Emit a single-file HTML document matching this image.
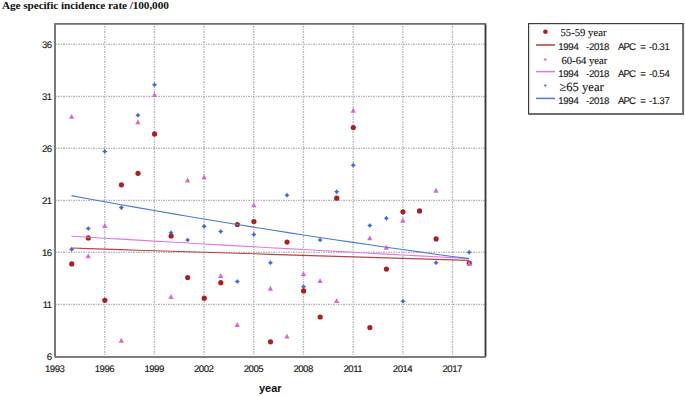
<!DOCTYPE html>
<html><head><meta charset="utf-8"><style>
html,body{margin:0;padding:0;background:#fff;}
body{width:685px;height:396px;overflow:hidden;}
svg{display:block;}
.sans{font-family:"Liberation Sans",sans-serif;}
.serif{font-family:"Liberation Serif",serif;}
</style></head><body>
<svg width="685" height="396" viewBox="0 0 685 396">
<rect width="685" height="396" fill="#fff"/>
<text class="serif" x="2" y="9.3" font-size="11.3" letter-spacing="-0.1" font-weight="bold" fill="#111">Age specific incidence rate /100,000</text>
<g stroke="#b8b8b8" stroke-width="1.3" stroke-dasharray="1,1,2,1">
<line x1="56" y1="44.45" x2="485" y2="44.45"/>
<line x1="56" y1="96.45" x2="485" y2="96.45"/>
<line x1="56" y1="148.45" x2="485" y2="148.45"/>
<line x1="56" y1="200.45" x2="485" y2="200.45"/>
<line x1="56" y1="252.45" x2="485" y2="252.45"/>
<line x1="56" y1="304.45" x2="485" y2="304.45"/>
<line x1="104.72" y1="24" x2="104.72" y2="356"/>
<line x1="154.40" y1="24" x2="154.40" y2="356"/>
<line x1="204.09" y1="24" x2="204.09" y2="356"/>
<line x1="253.77" y1="24" x2="253.77" y2="356"/>
<line x1="303.46" y1="24" x2="303.46" y2="356"/>
<line x1="353.15" y1="24" x2="353.15" y2="356"/>
<line x1="402.83" y1="24" x2="402.83" y2="356"/>
<line x1="452.52" y1="24" x2="452.52" y2="356"/>
</g>
<path d="M71.69,246.80 L72.74,248.35 L74.29,249.40 L72.74,250.45 L71.69,252.00 L70.64,250.45 L69.09,249.40 L70.64,248.35Z" fill="#3e66e0"/>
<path d="M88.25,225.90 L89.30,227.45 L90.85,228.50 L89.30,229.55 L88.25,231.10 L87.20,229.55 L85.65,228.50 L87.20,227.45Z" fill="#3e66e0"/>
<path d="M104.82,148.90 L105.87,150.45 L107.42,151.50 L105.87,152.55 L104.82,154.10 L103.77,152.55 L102.22,151.50 L103.77,150.45Z" fill="#3e66e0"/>
<path d="M121.38,205.00 L122.43,206.55 L123.98,207.60 L122.43,208.65 L121.38,210.20 L120.33,208.65 L118.78,207.60 L120.33,206.55Z" fill="#3e66e0"/>
<path d="M137.94,112.60 L138.99,114.15 L140.54,115.20 L138.99,116.25 L137.94,117.80 L136.89,116.25 L135.34,115.20 L136.89,114.15Z" fill="#3e66e0"/>
<path d="M154.50,82.20 L155.55,83.75 L157.10,84.80 L155.55,85.85 L154.50,87.40 L153.45,85.85 L151.90,84.80 L153.45,83.75Z" fill="#3e66e0"/>
<path d="M171.06,230.10 L172.11,231.65 L173.66,232.70 L172.11,233.75 L171.06,235.30 L170.01,233.75 L168.46,232.70 L170.01,231.65Z" fill="#3e66e0"/>
<path d="M187.63,237.40 L188.68,238.95 L190.23,240.00 L188.68,241.05 L187.63,242.60 L186.58,241.05 L185.03,240.00 L186.58,238.95Z" fill="#3e66e0"/>
<path d="M204.19,223.80 L205.24,225.35 L206.79,226.40 L205.24,227.45 L204.19,229.00 L203.14,227.45 L201.59,226.40 L203.14,225.35Z" fill="#3e66e0"/>
<path d="M220.75,228.90 L221.80,230.45 L223.35,231.50 L221.80,232.55 L220.75,234.10 L219.70,232.55 L218.15,231.50 L219.70,230.45Z" fill="#3e66e0"/>
<path d="M237.31,278.90 L238.36,280.45 L239.91,281.50 L238.36,282.55 L237.31,284.10 L236.26,282.55 L234.71,281.50 L236.26,280.45Z" fill="#3e66e0"/>
<path d="M253.87,231.90 L254.92,233.45 L256.47,234.50 L254.92,235.55 L253.87,237.10 L252.82,235.55 L251.27,234.50 L252.82,233.45Z" fill="#3e66e0"/>
<path d="M270.44,260.10 L271.49,261.65 L273.04,262.70 L271.49,263.75 L270.44,265.30 L269.39,263.75 L267.84,262.70 L269.39,261.65Z" fill="#3e66e0"/>
<path d="M287.00,192.60 L288.05,194.15 L289.60,195.20 L288.05,196.25 L287.00,197.80 L285.95,196.25 L284.40,195.20 L285.95,194.15Z" fill="#3e66e0"/>
<path d="M303.56,284.10 L304.61,285.65 L306.16,286.70 L304.61,287.75 L303.56,289.30 L302.51,287.75 L300.96,286.70 L302.51,285.65Z" fill="#3e66e0"/>
<path d="M320.12,237.40 L321.17,238.95 L322.72,240.00 L321.17,241.05 L320.12,242.60 L319.07,241.05 L317.52,240.00 L319.07,238.95Z" fill="#3e66e0"/>
<path d="M336.68,189.20 L337.73,190.75 L339.28,191.80 L337.73,192.85 L336.68,194.40 L335.63,192.85 L334.08,191.80 L335.63,190.75Z" fill="#3e66e0"/>
<path d="M353.25,162.60 L354.30,164.15 L355.85,165.20 L354.30,166.25 L353.25,167.80 L352.20,166.25 L350.65,165.20 L352.20,164.15Z" fill="#3e66e0"/>
<path d="M369.81,222.90 L370.86,224.45 L372.41,225.50 L370.86,226.55 L369.81,228.10 L368.76,226.55 L367.21,225.50 L368.76,224.45Z" fill="#3e66e0"/>
<path d="M386.37,215.60 L387.42,217.15 L388.97,218.20 L387.42,219.25 L386.37,220.80 L385.32,219.25 L383.77,218.20 L385.32,217.15Z" fill="#3e66e0"/>
<path d="M402.93,298.60 L403.98,300.15 L405.53,301.20 L403.98,302.25 L402.93,303.80 L401.88,302.25 L400.33,301.20 L401.88,300.15Z" fill="#3e66e0"/>
<path d="M436.06,260.10 L437.11,261.65 L438.66,262.70 L437.11,263.75 L436.06,265.30 L435.01,263.75 L433.46,262.70 L435.01,261.65Z" fill="#3e66e0"/>
<path d="M469.18,249.70 L470.23,251.25 L471.78,252.30 L470.23,253.35 L469.18,254.90 L468.13,253.35 L466.58,252.30 L468.13,251.25Z" fill="#3e66e0"/>
<circle cx="71.74" cy="263.90" r="2.6" fill="#aa2020"/>
<circle cx="88.30" cy="237.90" r="2.6" fill="#aa2020"/>
<circle cx="104.87" cy="300.30" r="2.6" fill="#aa2020"/>
<circle cx="121.43" cy="184.80" r="2.6" fill="#aa2020"/>
<circle cx="137.99" cy="173.30" r="2.6" fill="#aa2020"/>
<circle cx="154.55" cy="133.90" r="2.6" fill="#aa2020"/>
<circle cx="171.11" cy="236.00" r="2.6" fill="#aa2020"/>
<circle cx="187.68" cy="277.60" r="2.6" fill="#aa2020"/>
<circle cx="204.24" cy="298.20" r="2.6" fill="#aa2020"/>
<circle cx="220.80" cy="282.70" r="2.6" fill="#aa2020"/>
<circle cx="237.36" cy="224.50" r="2.6" fill="#aa2020"/>
<circle cx="253.92" cy="221.50" r="2.6" fill="#aa2020"/>
<circle cx="270.49" cy="341.80" r="2.6" fill="#aa2020"/>
<circle cx="287.05" cy="242.10" r="2.6" fill="#aa2020"/>
<circle cx="303.61" cy="290.90" r="2.6" fill="#aa2020"/>
<circle cx="320.17" cy="317.00" r="2.6" fill="#aa2020"/>
<circle cx="336.73" cy="198.20" r="2.6" fill="#aa2020"/>
<circle cx="353.30" cy="127.60" r="2.6" fill="#aa2020"/>
<circle cx="369.86" cy="327.60" r="2.6" fill="#aa2020"/>
<circle cx="386.42" cy="269.10" r="2.6" fill="#aa2020"/>
<circle cx="402.98" cy="211.80" r="2.6" fill="#aa2020"/>
<circle cx="419.54" cy="210.90" r="2.6" fill="#aa2020"/>
<circle cx="436.11" cy="238.90" r="2.6" fill="#aa2020"/>
<circle cx="469.23" cy="263.20" r="2.6" fill="#aa2020"/>
<path d="M71.64,113.95 L74.29,118.85 L68.99,118.85Z" fill="#d866d8"/>
<path d="M88.20,253.35 L90.85,258.25 L85.55,258.25Z" fill="#d866d8"/>
<path d="M104.77,223.05 L107.42,227.95 L102.12,227.95Z" fill="#d866d8"/>
<path d="M121.33,337.85 L123.98,342.75 L118.68,342.75Z" fill="#d866d8"/>
<path d="M137.89,119.35 L140.54,124.25 L135.24,124.25Z" fill="#d866d8"/>
<path d="M154.45,92.15 L157.10,97.05 L151.80,97.05Z" fill="#d866d8"/>
<path d="M171.01,294.05 L173.66,298.95 L168.36,298.95Z" fill="#d866d8"/>
<path d="M187.58,177.55 L190.23,182.45 L184.93,182.45Z" fill="#d866d8"/>
<path d="M204.14,174.25 L206.79,179.15 L201.49,179.15Z" fill="#d866d8"/>
<path d="M220.70,273.05 L223.35,277.95 L218.05,277.95Z" fill="#d866d8"/>
<path d="M237.26,322.05 L239.91,326.95 L234.61,326.95Z" fill="#d866d8"/>
<path d="M253.82,202.35 L256.47,207.25 L251.17,207.25Z" fill="#d866d8"/>
<path d="M270.39,285.75 L273.04,290.65 L267.74,290.65Z" fill="#d866d8"/>
<path d="M286.95,333.65 L289.60,338.55 L284.30,338.55Z" fill="#d866d8"/>
<path d="M303.51,271.15 L306.16,276.05 L300.86,276.05Z" fill="#d866d8"/>
<path d="M320.07,278.15 L322.72,283.05 L317.42,283.05Z" fill="#d866d8"/>
<path d="M336.63,298.15 L339.28,303.05 L333.98,303.05Z" fill="#d866d8"/>
<path d="M353.20,107.85 L355.85,112.75 L350.55,112.75Z" fill="#d866d8"/>
<path d="M369.76,235.45 L372.41,240.35 L367.11,240.35Z" fill="#d866d8"/>
<path d="M386.32,244.85 L388.97,249.75 L383.67,249.75Z" fill="#d866d8"/>
<path d="M402.88,217.85 L405.53,222.75 L400.23,222.75Z" fill="#d866d8"/>
<path d="M436.01,187.85 L438.66,192.75 L433.36,192.75Z" fill="#d866d8"/>
<path d="M469.13,260.75 L471.78,265.65 L466.48,265.65Z" fill="#d866d8"/>
<polyline points="71.44,248.07 88.00,248.60 104.57,249.13 121.13,249.65 137.69,250.18 154.25,250.70 170.81,251.23 187.38,251.75 203.94,252.27 220.50,252.78 237.06,253.30 253.62,253.81 270.19,254.33 286.75,254.84 303.31,255.35 319.87,255.86 336.43,256.36 353.00,256.87 369.56,257.37 386.12,257.87 402.68,258.37 419.24,258.87 435.81,259.37 452.37,259.86 468.93,260.36" fill="none" stroke="#b84444" stroke-width="1.1"/>
<polyline points="71.44,236.21 88.00,237.20 104.57,238.18 121.13,239.16 137.69,240.13 154.25,241.10 170.81,242.06 187.38,243.02 203.94,243.97 220.50,244.92 237.06,245.86 253.62,246.79 270.19,247.72 286.75,248.65 303.31,249.57 319.87,250.49 336.43,251.40 353.00,252.31 369.56,253.21 386.12,254.10 402.68,255.00 419.24,255.88 435.81,256.77 452.37,257.64 468.93,258.52" fill="none" stroke="#e07ae0" stroke-width="1.1"/>
<polyline points="71.44,195.65 88.00,198.71 104.57,201.73 121.13,204.71 137.69,207.65 154.25,210.55 170.81,213.41 187.38,216.23 203.94,219.01 220.50,221.76 237.06,224.46 253.62,227.13 270.19,229.76 286.75,232.36 303.31,234.92 319.87,237.44 336.43,239.94 353.00,242.39 369.56,244.81 386.12,247.20 402.68,249.56 419.24,251.89 435.81,254.18 452.37,256.44 468.93,258.67" fill="none" stroke="#4a78dc" stroke-width="1.1"/>
<path d="M55,23.8 L485.5,23.8 L485.5,356.8 L55,356.8 Z" fill="none" stroke="#6c6c6c" stroke-width="1.8" stroke-linejoin="round"/>
<line x1="55.8" y1="356.8" x2="484.7" y2="356.8" stroke="#7a7a7a" stroke-width="1.8"/>
<line x1="485.5" y1="24.5" x2="485.5" y2="356" stroke="#3a3a3a" stroke-width="1.4"/>
<g class="sans" font-size="9.6" letter-spacing="-0.5" fill="#1a1a1a" stroke="#1a1a1a" stroke-width="0.15" style="text-rendering:geometricPrecision">
<text x="51.7" y="47.9" text-anchor="end">36</text>
<text x="51.7" y="99.9" text-anchor="end">31</text>
<text x="51.7" y="151.8" text-anchor="end">26</text>
<text x="51.7" y="203.8" text-anchor="end">21</text>
<text x="51.7" y="255.8" text-anchor="end">16</text>
<text x="51.7" y="307.8" text-anchor="end">11</text>
<text x="51.7" y="359.8" text-anchor="end">6</text>
<text x="54.7" y="371.6" text-anchor="middle">1993</text>
<text x="104.4" y="371.6" text-anchor="middle">1996</text>
<text x="154.1" y="371.6" text-anchor="middle">1999</text>
<text x="203.7" y="371.6" text-anchor="middle">2002</text>
<text x="253.4" y="371.6" text-anchor="middle">2005</text>
<text x="303.1" y="371.6" text-anchor="middle">2008</text>
<text x="352.8" y="371.6" text-anchor="middle">2011</text>
<text x="402.5" y="371.6" text-anchor="middle">2014</text>
<text x="452.2" y="371.6" text-anchor="middle">2017</text>
</g>
<text class="sans" x="259" y="391.6" font-size="11" font-weight="bold" fill="#111">year</text>
<!-- legend -->
<rect x="528.6" y="23.6" width="154.6" height="90.4" fill="#fff" stroke="#3c3c3c" stroke-width="1.2"/>
<path d="M683.1,24 L683.1,113.9 L529,113.9" fill="none" stroke="#6e6e6e" stroke-width="2" stroke-linejoin="round"/>
<circle cx="545.40" cy="31.80" r="2.3" fill="#aa2020"/>
<line x1="536" y1="45" x2="555" y2="45" stroke="#b03a3a" stroke-width="1.5"/>
<path d="M545.20,57.60 L546.90,60.60 L543.50,60.60Z" fill="#d866d8"/>
<line x1="536" y1="71.6" x2="555" y2="71.6" stroke="#e07ae0" stroke-width="1.5"/>
<path d="M545.20,83.70 L545.80,84.90 L547.00,85.50 L545.80,86.10 L545.20,87.30 L544.60,86.10 L543.40,85.50 L544.60,84.90Z" fill="#3e66e0"/>
<line x1="536" y1="98.4" x2="555" y2="98.4" stroke="#4a78dc" stroke-width="1.5"/>
<g class="serif" fill="#111" stroke="#111" stroke-width="0.12" style="text-rendering:geometricPrecision">
<text x="560.5" y="36.4" font-size="10.7">55-59 year</text>
<text x="561.4" y="64.4" font-size="10.7">60-64 year</text>
<text x="559.4" y="90.9" font-size="12.6">≥65 year</text>
</g>
<g class="sans" font-size="9.7" letter-spacing="-0.35" fill="#1a1a1a" stroke="#1a1a1a" stroke-width="0.12" style="text-rendering:geometricPrecision">
<text x="558.3" y="50">1994</text><text x="586" y="50">-2018</text><text x="618" y="50" letter-spacing="-1">APC</text><text x="640.3" y="50">=</text><text x="649.1" y="50">-0.31</text>
<text x="558.3" y="77">1994</text><text x="586" y="77">-2018</text><text x="618" y="77" letter-spacing="-1">APC</text><text x="640.3" y="77">=</text><text x="649.1" y="77">-0.54</text>
<text x="558.3" y="103.6">1994</text><text x="586" y="103.6">-2018</text><text x="618" y="103.6" letter-spacing="-1">APC</text><text x="640.3" y="103.6">=</text><text x="649.1" y="103.6">-1.37</text>
</g>
</svg>
</body></html>
